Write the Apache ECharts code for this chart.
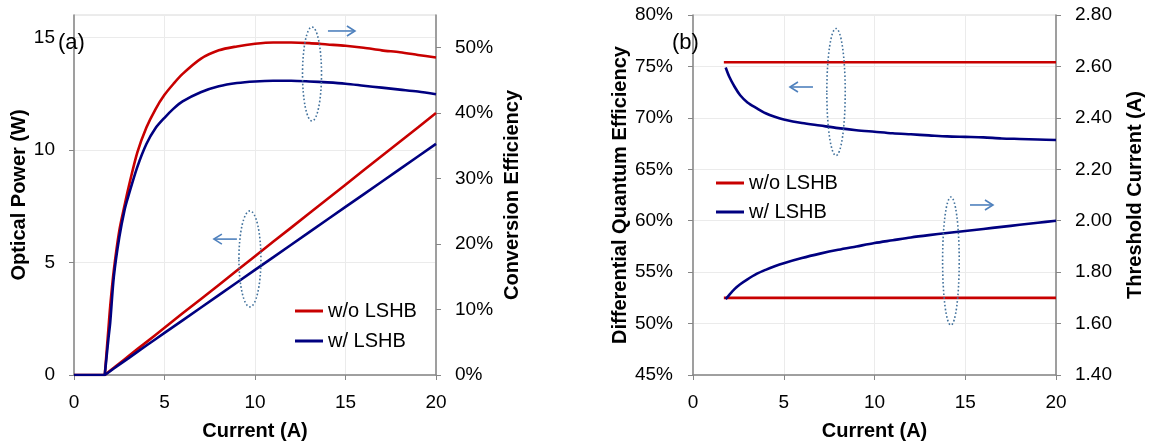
<!DOCTYPE html>
<html>
<head>
<meta charset="utf-8">
<script src="https://cdn.jsdelivr.net/npm/echarts@6/dist/echarts.min.js"></script>
<style>
  html, body { margin: 0; padding: 0; background: #fff; }
  #main { width: 1149px; height: 442px; }
</style>
</head>
<body>
<div id="main"></div>
<script>
// (a) current sweep, A
var currentA = [0, 1.7, 1.9, 2.0, 2.2, 2.5, 2.8, 3.0, 3.5, 4, 4.5, 5, 5.5, 6, 7, 8, 9, 10, 11, 12, 13, 14, 15, 16, 17, 18, 19, 20];
// optical power, W
var powerNoLshb = [0, 0, 0.13, 0.19, 0.32, 0.51, 0.70, 0.83, 1.15, 1.46, 1.78, 2.10, 2.42, 2.74, 3.37, 4.00, 4.64, 5.28, 5.92, 6.55, 7.19, 7.82, 8.46, 9.10, 9.73, 10.37, 11.00, 11.64];
var powerLshb = [0, 0, 0.11, 0.17, 0.29, 0.46, 0.63, 0.74, 1.03, 1.31, 1.59, 1.87, 2.15, 2.43, 2.99, 3.55, 4.11, 4.67, 5.23, 5.79, 6.35, 6.91, 7.47, 8.03, 8.59, 9.15, 9.71, 10.27];
// conversion efficiency, %
var effNoLshb = [0, 0, 7, 10.5, 16, 22, 26, 28.5, 34, 37.8, 40.6, 42.8, 44.5, 46, 48.3, 49.6, 50.2, 50.6, 50.8, 50.8, 50.7, 50.5, 50.3, 50.0, 49.6, 49.3, 48.9, 48.5];
var effLshb = [0, 0, 5.5, 8, 15, 21, 25.3, 27.3, 31.8, 35.3, 37.7, 39.3, 40.7, 41.8, 43.2, 44.1, 44.6, 44.85, 44.95, 44.95, 44.85, 44.7, 44.5, 44.2, 43.9, 43.6, 43.3, 42.9];

// (b)
var currentBRed = [1.7, 20];
var dqeNoLshb = [75.4, 75.4];
var ithNoLshb = [1.70, 1.70];
var currentBBlue = [1.8, 2.0, 2.3, 2.6, 3, 3.5, 4, 4.5, 5, 6, 7, 8, 9, 10, 11, 12, 13, 14, 15, 16, 17, 18, 19, 20];
var dqeLshb = [74.9, 74.0, 73.0, 72.2, 71.5, 70.95, 70.45, 70.1, 69.85, 69.5, 69.25, 69.0, 68.8, 68.65, 68.5, 68.4, 68.3, 68.2, 68.15, 68.1, 68.0, 67.95, 67.9, 67.85];
var ithLshb = [1.695, 1.712, 1.735, 1.753, 1.772, 1.793, 1.809, 1.823, 1.835, 1.855, 1.872, 1.887, 1.90, 1.913, 1.924, 1.935, 1.944, 1.952, 1.96, 1.968, 1.976, 1.984, 1.992, 2.0];

var RED = '#C80000';
var BLUE = '#000080';
var FONT = '"Liberation Sans", Arial, sans-serif';
var AXIS_GRAY = '#868686';
var GRID_GRAY = '#ebebeb';

function zip(xs, ys, from) {
  return xs.map(function (x, i) { return [x, ys[i]]; }).slice(from || 0);
}

function xAxis(grid) {
  return {
    type: 'value', gridIndex: grid, min: 0, max: 20, interval: 5,
    name: 'Current (A)', nameLocation: 'middle', nameGap: 46,
    nameTextStyle: { fontFamily: FONT, fontSize: 20, fontWeight: 'bold', color: '#000' },
    axisLine: { show: true, onZero: false, lineStyle: { color: AXIS_GRAY, width: 1.5 } },
    axisTick: { show: true, length: 5, lineStyle: { color: AXIS_GRAY } },
    axisLabel: { fontFamily: FONT, fontSize: 19, color: '#000', margin: 18 },
    splitLine: { show: true, lineStyle: { color: GRID_GRAY } }
  };
}

function yAxis(grid, pos, opts) {
  var ax = {
    type: 'value', gridIndex: grid, position: pos,
    nameLocation: 'middle', nameRotate: 90,
    nameTextStyle: { fontFamily: FONT, fontSize: 20, fontWeight: 'bold', color: '#000' },
    axisLine: { show: true, lineStyle: { color: AXIS_GRAY, width: 1.5 } },
    axisTick: { show: true, length: 5, lineStyle: { color: AXIS_GRAY } },
    axisLabel: { fontFamily: FONT, fontSize: 19, color: '#000', margin: 19 },
    splitLine: { show: pos === 'left', lineStyle: { color: GRID_GRAY } }
  };
  for (var k in opts) ax[k] = opts[k];
  return ax;
}

function line(name, color, xi, yi, data, smooth) {
  return {
    type: 'line', name: name, xAxisIndex: xi, yAxisIndex: yi,
    data: data, symbol: 'none', smooth: smooth || false,
    lineStyle: { color: color, width: 2.6, join: 'round' }, itemStyle: { color: color }
  };
}

var chart = echarts.init(document.getElementById('main'));

var option = {
  animation: false,
  backgroundColor: '#fff',
  grid: [
    { left: 74, right: 713, top: 15, bottom: 67, outerBoundsMode: 'none', containLabel: false,
      show: true, borderColor: '#d9d9d9', borderWidth: 1 },
    { left: 693, right: 93, top: 15, bottom: 67, outerBoundsMode: 'none', containLabel: false,
      show: true, borderColor: '#d9d9d9', borderWidth: 1 }
  ],
  legend: [
    {
      orient: 'vertical', left: 295, top: 301, padding: 0, itemGap: 10,
      icon: 'rect', itemWidth: 28, itemHeight: 3,
      textStyle: { fontFamily: FONT, fontSize: 20, color: '#000' },
      data: ['w/o LSHB', 'w/ LSHB']
    },
    {
      orient: 'vertical', left: 716, top: 173, padding: 0, itemGap: 9,
      icon: 'rect', itemWidth: 28, itemHeight: 3,
      textStyle: { fontFamily: FONT, fontSize: 20, color: '#000' },
      data: ['w/o LSHB', 'w/ LSHB']
    }
  ],
  xAxis: [xAxis(0), xAxis(1)],
  yAxis: [
    yAxis(0, 'left', { min: 0, max: 16, interval: 5, name: 'Optical Power (W)', nameGap: 42,
      axisLabel: { fontFamily: FONT, fontSize: 19, color: '#000', margin: 19, showMaxLabel: false } }),
    yAxis(0, 'right', { min: 0, max: 55, interval: 10, name: 'Conversion Efficiency', nameGap: 66,
      axisLabel: { fontFamily: FONT, fontSize: 19, color: '#000', margin: 19, showMaxLabel: false, formatter: '{value}%' } }),
    yAxis(1, 'left', { min: 45, max: 80, interval: 5, name: 'Differential Quantum Efficiency', nameGap: 63,
      axisLabel: { fontFamily: FONT, fontSize: 19, color: '#000', margin: 20, formatter: '{value}%' } }),
    yAxis(1, 'right', { min: 1.4, max: 2.8, interval: 0.2, name: 'Threshold Current (A)', nameGap: 69,
      axisLabel: { fontFamily: FONT, fontSize: 19, color: '#000', margin: 19,
        formatter: function (v) { return v.toFixed(2); } } })
  ],
  series: [
    line('w/o LSHB', RED, 0, 0, zip(currentA, powerNoLshb)),
    line('w/o LSHB', RED, 0, 1, zip(currentA, effNoLshb, 1), 0.3),
    line('w/ LSHB', BLUE, 0, 0, zip(currentA, powerLshb)),
    line('w/ LSHB', BLUE, 0, 1, zip(currentA, effLshb, 1), 0.3),
    line('w/o LSHB', RED, 1, 2, zip(currentBRed, dqeNoLshb)),
    line('w/o LSHB', RED, 1, 3, zip(currentBRed, ithNoLshb)),
    line('w/ LSHB', BLUE, 1, 2, zip(currentBBlue, dqeLshb), 0.3),
    line('w/ LSHB', BLUE, 1, 3, zip(currentBBlue, ithLshb), 0.3)
  ]
};
chart.setOption(option);

// annotations: dotted ellipses and arrows, anchored in data space
var ARROW = '#4F81BD';
var RING = '#41719C';

function px(grid, pt) {
  return chart.convertToPixel({ xAxisIndex: grid, yAxisIndex: grid * 2 }, pt);
}
function ring(grid, pt, rx, ry) {
  var p = px(grid, pt);
  return {
    type: 'ellipse', silent: true, z: 50,
    shape: { cx: p[0], cy: p[1], rx: rx, ry: ry },
    style: { fill: 'none', stroke: RING, lineWidth: 1.6, lineDash: [1.6, 2.2] }
  };
}
function arrow(grid, pt, len) {
  var p = px(grid, pt);
  var x2 = p[0] + len, d = len > 0 ? -8 : 8;
  return {
    type: 'group', silent: true, z: 50,
    children: [
      { type: 'line', shape: { x1: p[0], y1: p[1], x2: x2, y2: p[1] },
        style: { stroke: ARROW, lineWidth: 1.6 } },
      { type: 'polyline', shape: { points: [[x2 + d, p[1] - 5], [x2, p[1]], [x2 + d, p[1] + 5]] },
        style: { stroke: ARROW, lineWidth: 1.6, fill: 'none' } }
    ]
  };
}

chart.setOption({
  graphic: [
    ring(0, [13.15, 13.38], 9.5, 47),
    arrow(0, [14.03, 15.29], 27),
    ring(0, [9.72, 5.16], 11, 48),
    arrow(0, [9.0, 6.04], -23),
    ring(1, [7.88, 72.51], 9.2, 63.5),
    arrow(1, [6.61, 73.0], -23),
    ring(1, [14.21, 56.08], 8.3, 64),
    arrow(1, [15.26, 61.53], 23),
    { type: 'text', silent: true, z: 50,
      style: { text: '(a)', x: 58, y: 43, font: '22px ' + FONT, fill: '#000', verticalAlign: 'middle' } },
    { type: 'text', silent: true, z: 50,
      style: { text: '(b)', x: 672, y: 43, font: '22px ' + FONT, fill: '#000', verticalAlign: 'middle' } }
  ]
});
</script>
</body>
</html>
